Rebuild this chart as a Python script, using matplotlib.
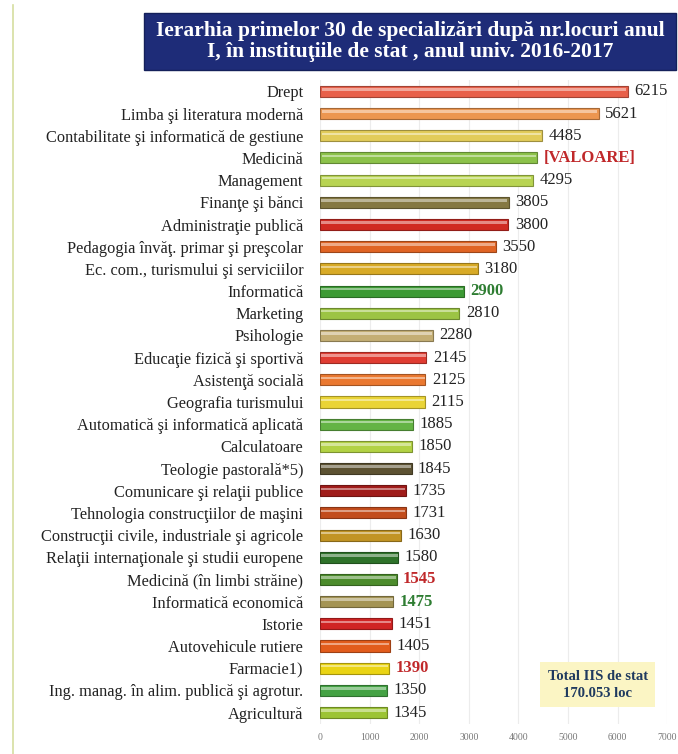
import matplotlib.pyplot as plt
from matplotlib.patches import Rectangle
from matplotlib.lines import Line2D
from matplotlib.colors import to_rgb
import numpy as np

specializari = [
    "Drept", "Limba şi literatura modernă", "Contabilitate şi informatică de gestiune",
    "Medicină", "Management", "Finanţe şi bănci", "Administraţie publică",
    "Pedagogia învăţ. primar şi preşcolar", "Ec. com., turismului şi serviciilor",
    "Informatică", "Marketing", "Psihologie", "Educaţie fizică şi sportivă",
    "Asistenţă socială", "Geografia turismului", "Automatică şi informatică aplicată",
    "Calculatoare", "Teologie pastorală*5)", "Comunicare şi relaţii publice",
    "Tehnologia construcţiilor de maşini", "Construcţii civile, industriale şi agricole",
    "Relaţii internaţionale şi studii europene", "Medicină (în limbi străine)",
    "Informatică economică", "Istorie", "Autovehicule rutiere", "Farmacie1)",
    "Ing. manag. în alim. publică şi agrotur.", "Agricultură",
]
locuri = [6215, 5621, 4485, 4380, 4295, 3805, 3800, 3550, 3180, 2900, 2810, 2280,
          2145, 2125, 2115, 1885, 1850, 1845, 1735, 1731, 1630, 1580, 1545, 1475,
          1451, 1405, 1390, 1350, 1345]
etichete = [str(v) for v in locuri]
etichete[3] = "[VALOARE]"
culori = ["#e8604a", "#ec9650", "#e2cc5a", "#8cc24a", "#b8d452", "#857842",
          "#d02a22", "#e06424", "#d8aa26", "#3c9a34", "#9cc444", "#c4ae74",
          "#e03c32", "#ea7830", "#ead436", "#64b444", "#b2d244", "#5c5232",
          "#a01c1a", "#c24c1c", "#c29424", "#2e722a", "#4c8c2c", "#a49454",
          "#d02424", "#e25c1c", "#ead414", "#44a244", "#9cc434"]
# etichete evidentiate: index -> culoare text
evidentiate = {3: "#c0282a", 9: "#2e7d32", 22: "#c0282a", 23: "#2e7d32", 26: "#c0282a"}

serif = "Liberation Serif"
fig = plt.figure(figsize=(6.78, 7.54), dpi=100)
ax = fig.add_axes([0.472, 0.0402, 0.512, 0.8533])

y = np.arange(len(locuri))
for i, (v, c) in enumerate(zip(locuri, culori)):
    rgb = np.array(to_rgb(c))
    dark = rgb * 0.7
    light = rgb + (1 - rgb) * 0.45
    ax.barh(y[i], v, height=0.5, color=c, edgecolor=dark, linewidth=0.8, zorder=2)
    ax.barh(y[i] - 0.09, v * 0.985, left=v * 0.0075, height=0.11, color=light,
            linewidth=0, zorder=3)

for i, (v, t) in enumerate(zip(locuri, etichete)):
    if i in evidentiate:
        ax.text(v + 130, y[i], t, va="center", ha="left", fontsize=12,
                family=serif, fontweight="bold", color=evidentiate[i])
    else:
        ax.text(v + 130, y[i], t, va="center", ha="left", fontsize=12,
                family=serif, color="#222222")

ax.set_xlim(0, 7000)
ax.set_ylim(len(locuri) - 0.5, -0.5)
ax.set_xticks(range(0, 7001, 1000))
ax.set_yticks(y)
ax.set_yticklabels(specializari, family=serif, fontsize=11.8, color="#222222")
for lbl in ax.get_xticklabels():
    lbl.set_family(serif)
    lbl.set_fontsize(7)
    lbl.set_color("#777777")
ax.tick_params(axis="both", length=0)
ax.tick_params(axis="y", pad=12)
ax.tick_params(axis="x", pad=7)
ax.grid(axis="x", color="#ececec", linewidth=0.8, zorder=0)
for s in ax.spines.values():
    s.set_visible(False)

ax.text(5600, 26.75, "Total IIS de stat\n170.053 loc", ha="center", va="center",
        fontsize=10.5, family=serif, fontweight="bold", color="#1f3a5f",
        linespacing=1.45,
        bbox=dict(boxstyle="square,pad=0.5", facecolor="#fbf5c4", edgecolor="none"),
        zorder=4)

# bara de titlu
fig.patches.append(Rectangle((0.212, 0.907), 0.785, 0.076, transform=fig.transFigure,
                             facecolor="#1e2c78", edgecolor="#14205a", linewidth=1))
fig.text(0.6045, 0.945,
         "Ierarhia primelor 30 de specializări după nr.locuri anul\n"
         "I, în instituţiile de stat , anul univ. 2016-2017",
         ha="center", va="center", color="white", fontsize=15.5,
         family=serif, fontweight="bold", linespacing=1.1)

fig.add_artist(Line2D([0.019, 0.019], [0.0, 0.993], transform=fig.transFigure,
                      color="#d6dea0", linewidth=1.2))

fig.savefig("out.png", dpi=100)
